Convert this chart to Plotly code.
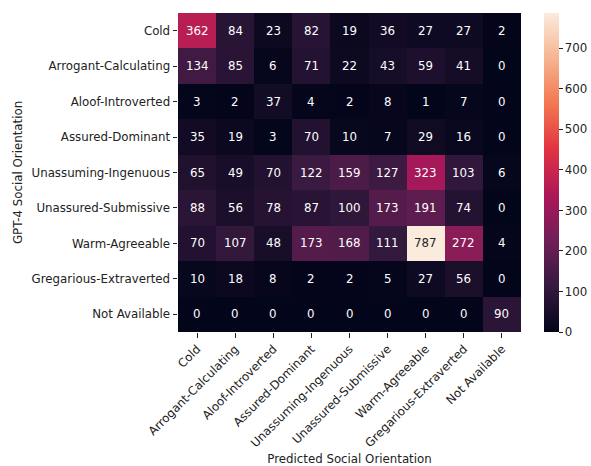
import plotly.graph_objects as go

labels = ["Cold", "Arrogant-Calculating", "Aloof-Introverted", "Assured-Dominant",
          "Unassuming-Ingenuous", "Unassured-Submissive", "Warm-Agreeable",
          "Gregarious-Extraverted", "Not Available"]

counts = [
    [362, 84, 23, 82, 19, 36, 27, 27, 2],
    [134, 85, 6, 71, 22, 43, 59, 41, 0],
    [3, 2, 37, 4, 2, 8, 1, 7, 0],
    [35, 19, 3, 70, 10, 7, 29, 16, 0],
    [65, 49, 70, 122, 159, 127, 323, 103, 6],
    [88, 56, 78, 87, 100, 173, 191, 74, 0],
    [70, 107, 48, 173, 168, 111, 787, 272, 4],
    [10, 18, 8, 2, 2, 5, 27, 56, 0],
    [0, 0, 0, 0, 0, 0, 0, 0, 90],
]

colorbar_ticks = [0, 100, 200, 300, 400, 500, 600, 700]

rocket = [
    [0.0, "#03051a"],
    [1/7, "#35193e"],
    [2/7, "#701f57"],
    [3/7, "#ad1759"],
    [4/7, "#e13342"],
    [5/7, "#f37651"],
    [6/7, "#f6b48f"],
    [1.0, "#faebdd"],
]

zmax = max(max(r) for r in counts)


def interp_color(t):
    for (a, ca), (b, cb) in zip(rocket[:-1], rocket[1:]):
        if a <= t <= b:
            f = (t - a) / (b - a) if b > a else 0
            c1 = [int(ca[i:i+2], 16) for i in (1, 3, 5)]
            c2 = [int(cb[i:i+2], 16) for i in (1, 3, 5)]
            return [c1[k] + f * (c2[k] - c1[k]) for k in range(3)]
    return [250, 235, 221]


def lum(rgb):
    out = []
    for c in rgb:
        c = c / 255
        out.append(c / 12.92 if c <= 0.03928 else ((c + 0.055) / 1.055) ** 2.4)
    return 0.2126 * out[0] + 0.7152 * out[1] + 0.0722 * out[2]


font = "DejaVu Sans"
fs = 11.8

fig = go.Figure(go.Heatmap(
    z=counts, x=labels, y=labels, colorscale=rocket, zmin=0, zmax=zmax,
    hoverongaps=False,
    colorbar=dict(
        x=1.066, xanchor="left", xpad=0, y=0.5, yanchor="middle", ypad=0,
        len=1, lenmode="fraction",
        thickness=15, outlinewidth=0, tickvals=colorbar_ticks,
        ticks="outside", ticklen=4, tickwidth=1, tickcolor="#222",
        tickfont=dict(family=font, size=fs, color="#222"),
    ),
))

annotations = []
for i, row in enumerate(counts):
    for j, v in enumerate(row):
        col = "#262626" if lum(interp_color(v / zmax)) > 0.408 else "#ffffff"
        annotations.append(dict(x=labels[j], y=labels[i], text=str(v), showarrow=False,
                                font=dict(family=font, size=fs, color=col)))

fig.update_layout(
    width=591, height=466,
    margin=dict(l=178, r=70, t=13, b=134, autoexpand=False),
    paper_bgcolor="white", plot_bgcolor="white",
    font=dict(family=font, size=fs, color="#222"),
    annotations=annotations,
    xaxis=dict(
        automargin=False,
        tickangle=-45, ticks="outside", ticklen=4.5, tickwidth=1, tickcolor="#222",
        showgrid=False, zeroline=False, showline=False,
        tickfont=dict(family=font, size=fs, color="#222"),
        title=dict(text="Predicted Social Orientation", standoff=8,
                   font=dict(family=font, size=fs, color="#222")),
    ),
    yaxis=dict(
        automargin=False,
        autorange="reversed", ticks="outside", ticklen=4.5, tickwidth=1, tickcolor="#222",
        showgrid=False, zeroline=False, showline=False,
        tickfont=dict(family=font, size=fs, color="#222"),
        title=dict(text="GPT-4 Social Orientation", standoff=6,
                   font=dict(family=font, size=fs, color="#222")),
    ),
)

fig.write_html("out.html", config={"displayModeBar": False},
               post_script="document.body.style.margin='0';document.body.style.padding='0';")
